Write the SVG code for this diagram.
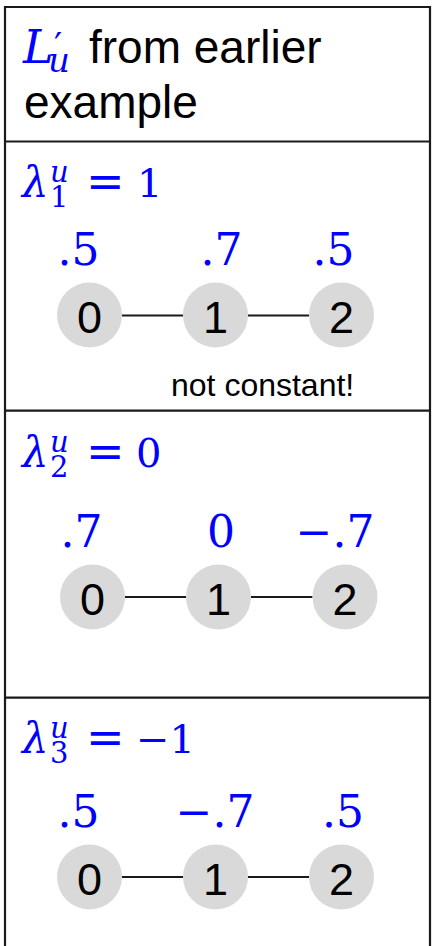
<svg xmlns="http://www.w3.org/2000/svg" width="432" height="946" viewBox="0 0 432 946">
<style>
.frame{fill:none;stroke:#1a1a1a;stroke-width:2.2}
.node circle{fill:#d9d9d9}
.node text{font-family:"Liberation Sans",Arial,sans-serif;font-size:45px;fill:#000;text-anchor:middle}
.edge{stroke:#1a1a1a;stroke-width:2}
.m{font-family:"DejaVu Serif",serif;fill:#0000ff}
.mi{font-style:italic}
.val{font-family:"DejaVu Serif",serif;font-size:44px;fill:#0000ff;text-anchor:middle}
.t{font-family:"Liberation Sans",Arial,sans-serif;fill:#000}
</style>
<rect width="432" height="946" fill="#fff"/>
<g id="frame">
<path class="frame" d="M5,950 V7 H430 V950"/>
<line class="frame" x1="5" y1="141.5" x2="430" y2="141.5"/>
<line class="frame" x1="5" y1="410.7" x2="430" y2="410.7"/>
<line class="frame" x1="5" y1="697.7" x2="430" y2="697.7"/>
</g>
<g id="title">
<text class="m"><tspan class="mi" x="23" y="63" font-size="46">L</tspan><tspan x="54" y="58" font-size="36">′</tspan><tspan class="mi" x="48" y="72" font-size="34">u</tspan></text>
<text class="t" x="89" y="63" font-size="46">from earlier</text>
<text class="t" x="24" y="118" font-size="46">example</text>
</g>
<g id="lambda1">
<text class="m"><tspan class="mi" x="22" y="197" font-size="42">λ</tspan><tspan class="mi" x="50" y="182" font-size="29">u</tspan><tspan x="50" y="207" font-size="29">1</tspan><tspan x="86" y="197" font-size="46">=</tspan><tspan x="137" y="197" font-size="40">1</tspan></text>
</g>
<g id="values1">
<text class="val" x="78.5" y="265">.5</text>
<text class="val" x="221.5" y="265">.7</text>
<text class="val" x="333.5" y="265">.5</text>
</g>
<text id="note" class="t" x="171" y="396" font-size="32">not constant!</text>
<g id="lambda2">
<text class="m"><tspan class="mi" x="22" y="467" font-size="42">λ</tspan><tspan class="mi" x="50" y="452" font-size="29">u</tspan><tspan x="50" y="477" font-size="29">2</tspan><tspan x="86" y="467" font-size="46">=</tspan><tspan x="136" y="467" font-size="40">0</tspan></text>
</g>
<g id="values2">
<text class="val" x="81.5" y="547">.7</text>
<text class="val" x="221" y="547">0</text>
<text class="val" x="335" y="547">−.7</text>
</g>
<g id="lambda3">
<text class="m"><tspan class="mi" x="22" y="753" font-size="42">λ</tspan><tspan class="mi" x="50" y="738" font-size="29">u</tspan><tspan x="50" y="763" font-size="29">3</tspan><tspan x="86" y="753" font-size="46">=</tspan><tspan x="136" y="753" font-size="40">−1</tspan></text>
</g>
<g id="values3">
<text class="val" x="78.5" y="827">.5</text>
<text class="val" x="215" y="827">−.7</text>
<text class="val" x="343" y="827">.5</text>
</g>
<g id="connectors">
<line class="edge" x1="122" y1="315.5" x2="183" y2="315.5"/>
<line class="edge" x1="248" y1="315.5" x2="309" y2="315.5"/>
<line class="edge" x1="125" y1="597" x2="186" y2="597"/>
<line class="edge" x1="251" y1="597" x2="312.5" y2="597"/>
<line class="edge" x1="122" y1="877" x2="183" y2="877"/>
<line class="edge" x1="248" y1="877" x2="309" y2="877"/>
</g>
<g id="s1n0" class="node"><circle cx="89.5" cy="315" r="32.5"/><text x="89.5" y="333">0</text></g>
<g id="s1n1" class="node"><circle cx="215.5" cy="315" r="32.5"/><text x="215.5" y="333">1</text></g>
<g id="s1n2" class="node"><circle cx="341.5" cy="315" r="32.5"/><text x="341.5" y="333">2</text></g>
<g id="s2n0" class="node"><circle cx="92.5" cy="597" r="32.5"/><text x="92.5" y="615">0</text></g>
<g id="s2n1" class="node"><circle cx="218.5" cy="597" r="32.5"/><text x="218.5" y="615">1</text></g>
<g id="s2n2" class="node"><circle cx="345" cy="597" r="32.5"/><text x="345" y="615">2</text></g>
<g id="s3n0" class="node"><circle cx="89.5" cy="877" r="32.5"/><text x="89.5" y="895">0</text></g>
<g id="s3n1" class="node"><circle cx="215.5" cy="877" r="32.5"/><text x="215.5" y="895">1</text></g>
<g id="s3n2" class="node"><circle cx="341.5" cy="877" r="32.5"/><text x="341.5" y="895">2</text></g>
</svg>
